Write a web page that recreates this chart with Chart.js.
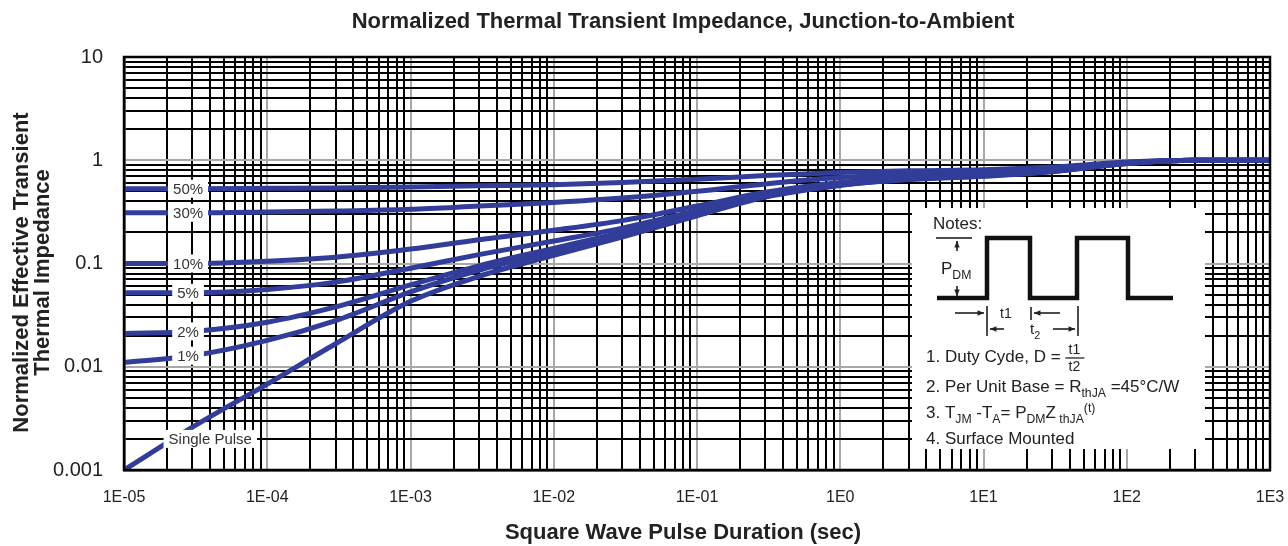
<!DOCTYPE html>
<html>
<head>
<meta charset="utf-8">
<script src="https://cdn.jsdelivr.net/npm/chart.js@4.4.0/dist/chart.umd.min.js"></script>
<style>
  html, body { margin: 0; padding: 0; background: #fff; }
</style>
</head>
<body>
<canvas id="zth" width="1288" height="546"></canvas>
<script>
// pulse duration (s) and normalized Zth per duty cycle
const pulseWidths = [1e-5, 3e-5, 1e-4, 3e-4, 1e-3, 3e-3, 1e-2, 3e-2, 1e-1, 3e-1, 1, 3, 10, 30, 100, 300, 1000];
const duty50 = [0.53, 0.53, 0.535, 0.54, 0.55, 0.565, 0.58, 0.61, 0.655, 0.71, 0.76, 0.79, 0.81, 0.86, 0.96, 1.0, 1.0];
const duty30 = [0.31, 0.31, 0.315, 0.322, 0.335, 0.36, 0.39, 0.43, 0.5, 0.59, 0.68, 0.73, 0.77, 0.83, 0.95, 1.0, 1.0];
const duty10 = [0.1, 0.1, 0.105, 0.115, 0.138, 0.17, 0.21, 0.26, 0.36, 0.49, 0.61, 0.68, 0.73, 0.8, 0.94, 1.0, 1.0];
const duty5 = [0.052, 0.052, 0.056, 0.066, 0.09, 0.122, 0.165, 0.22, 0.325, 0.46, 0.59, 0.67, 0.72, 0.79, 0.935, 1.0, 1.0];
const duty2 = [0.021, 0.022, 0.027, 0.038, 0.062, 0.095, 0.14, 0.2, 0.3, 0.45, 0.58, 0.66, 0.71, 0.785, 0.93, 1.0, 1.0];
const duty1 = [0.011, 0.0128, 0.018, 0.028, 0.053, 0.086, 0.13, 0.19, 0.295, 0.445, 0.575, 0.655, 0.705, 0.78, 0.93, 1.0, 1.0];
const singlePulse = [0.001, 0.0026, 0.0068, 0.0167, 0.043, 0.075, 0.12, 0.18, 0.29, 0.44, 0.57, 0.65, 0.7, 0.775, 0.93, 1.0, 1.0];

const curveNames = ['50%', '30%', '10%', '5%', '2%', '1%', 'Single Pulse'];
const curveValues = [duty50, duty30, duty10, duty5, duty2, duty1, singlePulse];

const xDecades = [1e-5, 1e-4, 1e-3, 1e-2, 1e-1, 1, 10, 100, 1000];
const xTickLabels = ['1E-05', '1E-04', '1E-03', '1E-02', '1E-01', '1E0', '1E1', '1E2', '1E3'];
const yDecades = [0.001, 0.01, 0.1, 1, 10];
const yTickLabels = ['0.001', '0.01', '0.1', '1', '10'];

const FONT = '"Liberation Sans", Arial, sans-serif';
const LINE_BLUE = '#313d99';

// 1..9 x 10^n for every decade, so every minor grid line gets drawn
function logTicks(decades) {
  const out = [];
  for (let i = 0; i < decades.length - 1; i++) {
    for (let m = 1; m < 10; m++) out.push({ value: m * decades[i] });
  }
  out.push({ value: decades[decades.length - 1] });
  return out;
}

function isDecade(v) {
  const l = Math.log10(v);
  return Math.abs(l - Math.round(l)) < 1e-9;
}

function decadeLabel(v, decades, labels) {
  const i = decades.findIndex(d => Math.abs(Math.log10(d) - Math.log10(v)) < 1e-9);
  return i >= 0 ? labels[i] : '';
}

const gridColor = ctx => (ctx.tick && isDecade(ctx.tick.value)) ? '#a8a8a8' : '#000';

function arrow(ctx, x1, y1, x2, y2) {
  const ang = Math.atan2(y2 - y1, x2 - x1);
  ctx.beginPath();
  ctx.moveTo(x1, y1);
  ctx.lineTo(x2, y2);
  ctx.stroke();
  ctx.beginPath();
  ctx.moveTo(x2, y2);
  ctx.lineTo(x2 - 7 * Math.cos(ang - 0.4), y2 - 7 * Math.sin(ang - 0.4));
  ctx.lineTo(x2 - 7 * Math.cos(ang + 0.4), y2 - 7 * Math.sin(ang + 0.4));
  ctx.closePath();
  ctx.fill();
}

// text with sub/superscript pieces, left aligned on a baseline
function richText(ctx, x, y, parts, size) {
  ctx.textAlign = 'left';
  ctx.textBaseline = 'alphabetic';
  for (const p of parts) {
    const fs = (p.sub || p.sup) ? size * 0.72 : size;
    ctx.font = fs + 'px ' + FONT;
    const dy = p.sub ? size * 0.3 : (p.sup ? -size * 0.35 : 0);
    ctx.fillText(p.t, x, y + dy);
    x += ctx.measureText(p.t).width;
  }
  return x;
}

const annotations = {
  id: 'annotations',
  afterDatasetsDraw(chart) {
    const { ctx, chartArea: a, scales } = chart;
    const xs = scales.x, ys = scales.y;
    ctx.save();

    // plot frame
    ctx.strokeStyle = '#000';
    ctx.lineWidth = 2.5;
    ctx.strokeRect(a.left, a.top, a.right - a.left, a.bottom - a.top);

    // curve tags on white boxes
    ctx.font = '15px ' + FONT;
    ctx.textAlign = 'center';
    ctx.textBaseline = 'middle';
    curveNames.forEach((name, i) => {
      let cx, cy;
      if (name === 'Single Pulse') {
        cx = xs.getPixelForValue(4e-5);
        cy = ys.getPixelForValue(0.002);
      } else {
        cx = xs.getPixelForValue(2.8e-5);
        cy = ys.getPixelForValue(curveValues[i][1]);
      }
      const w = ctx.measureText(name).width + 10;
      ctx.fillStyle = '#fff';
      ctx.fillRect(cx - w / 2, cy - 9, w, 18);
      ctx.fillStyle = '#333';
      ctx.fillText(name, cx, cy + 1);
    });

    // notes panel
    const bx = a.right - 358, by = a.top + 151;
    const bw = 293, bh = a.bottom - 21 - by;
    ctx.fillStyle = '#fff';
    ctx.fillRect(bx, by, bw, bh);

    ctx.fillStyle = '#222';
    ctx.strokeStyle = '#111';
    ctx.font = '17px ' + FONT;
    ctx.textAlign = 'left';
    ctx.textBaseline = 'alphabetic';
    ctx.fillText('Notes:', bx + 21, by + 21);

    // pulse train
    ctx.lineWidth = 4.5;
    ctx.lineJoin = 'miter';
    ctx.beginPath();
    const wave = [[25, 90], [75, 90], [75, 30], [118, 30], [118, 90], [165, 90], [165, 30], [216, 30], [216, 90], [261, 90]];
    wave.forEach(([px, py], k) => k ? ctx.lineTo(bx + px, by + py) : ctx.moveTo(bx + px, by + py));
    ctx.stroke();

    // P_DM marker
    ctx.lineWidth = 1.5;
    ctx.beginPath();
    ctx.moveTo(bx + 24, by + 30);
    ctx.lineTo(bx + 60, by + 30);
    ctx.stroke();
    arrow(ctx, bx + 45, by + 43, bx + 45, by + 33);
    arrow(ctx, bx + 45, by + 78, bx + 45, by + 88);
    richText(ctx, bx + 29, by + 66, [{ t: 'P' }, { t: 'DM', sub: true }], 17);

    // t1 / t2 dimension marks
    ctx.lineWidth = 1.5;
    ctx.beginPath();
    ctx.moveTo(bx + 75, by + 98); ctx.lineTo(bx + 75, by + 128);
    ctx.moveTo(bx + 119, by + 99); ctx.lineTo(bx + 119, by + 112);
    ctx.moveTo(bx + 166, by + 98); ctx.lineTo(bx + 166, by + 128);
    ctx.stroke();
    arrow(ctx, bx + 43, by + 105, bx + 72, by + 105);
    arrow(ctx, bx + 148, by + 105, bx + 122, by + 105);
    arrow(ctx, bx + 92, by + 121, bx + 78, by + 121);
    arrow(ctx, bx + 141, by + 121, bx + 163, by + 121);
    richText(ctx, bx + 88, by + 110, [{ t: 't1' }], 14);
    richText(ctx, bx + 118, by + 126, [{ t: 't' }, { t: '2', sub: true }], 15);

    // numbered notes
    ctx.fillStyle = '#222';
    const endX = richText(ctx, bx + 14, by + 154, [{ t: '1. Duty Cyde, D = ' }], 17);
    ctx.font = '14px ' + FONT;
    ctx.textAlign = 'center';
    ctx.fillText('t1', endX + 9, by + 146);
    ctx.fillText('t2', endX + 9, by + 163);
    ctx.lineWidth = 1.2;
    ctx.beginPath();
    ctx.moveTo(endX, by + 150); ctx.lineTo(endX + 19, by + 150);
    ctx.stroke();

    richText(ctx, bx + 14, by + 184, [{ t: '2. Per Unit Base = R' }, { t: 'thJA', sub: true }, { t: ' =45°C/W' }], 17);
    richText(ctx, bx + 14, by + 210, [{ t: '3. T' }, { t: 'JM', sub: true }, { t: ' -T' }, { t: 'A', sub: true },
      { t: '= P' }, { t: 'DM' , sub: true }, { t: 'Z' }, { t: ' thJA', sub: true }, { t: '(t)', sup: true }], 17);
    richText(ctx, bx + 14, by + 236, [{ t: '4. Surface Mounted' }], 17);

    ctx.restore();
  },
  afterDraw(chart) {
    const { ctx, chartArea: a } = chart;
    const mid = (a.left + a.right) / 2 - 14;
    ctx.save();
    ctx.fillStyle = '#222';
    ctx.font = 'bold 22px ' + FONT;
    ctx.textAlign = 'center';
    ctx.textBaseline = 'middle';
    ctx.fillText('Normalized Thermal Transient Impedance, Junction-to-Ambient', mid, 22);
    ctx.fillText('Square Wave Pulse Duration (sec)', mid, 533);
    ctx.translate(22, (a.top + a.bottom) / 2 + 9);
    ctx.rotate(-Math.PI / 2);
    ctx.fillText('Normalized Effective Transient', 0, 0);
    ctx.fillText('Thermal Impedance', 0, 21);
    ctx.restore();
  }
};

const datasets = curveNames.map((name, i) => ({
  label: name,
  data: pulseWidths.map((t, k) => ({ x: t, y: curveValues[i][k] })),
  borderColor: LINE_BLUE,
  borderWidth: 5,
  pointRadius: 0,
  fill: false,
  cubicInterpolationMode: 'monotone'
}));

new Chart(document.getElementById('zth').getContext('2d'), {
  type: 'line',
  data: { datasets },
  options: {
    responsive: false,
    animation: false,
    devicePixelRatio: 1,
    layout: { padding: { top: 57, right: 18, left: 0, bottom: 0 } },
    plugins: {
      legend: { display: false },
      tooltip: { enabled: false },
      title: { display: false }
    },
    scales: {
      x: {
        type: 'logarithmic',
        min: 1e-5,
        max: 1e3,
        afterBuildTicks: s => { s.ticks = logTicks(xDecades); },
        afterFit: s => { s.height = 76; s.paddingLeft = 0; s.paddingRight = 0; },
        grid: { color: gridColor, lineWidth: 2, drawTicks: false },
        border: { display: true, color: '#000', width: 2.5 },
        ticks: {
          autoSkip: false,
          maxRotation: 0,
          padding: 18,
          color: '#222',
          font: { family: FONT, size: 16 },
          callback: v => decadeLabel(v, xDecades, xTickLabels)
        }
      },
      y: {
        type: 'logarithmic',
        min: 0.001,
        max: 10,
        afterBuildTicks: s => { s.ticks = logTicks(yDecades); },
        afterFit: s => { s.width = 124; s.paddingTop = 0; s.paddingBottom = 0; },
        grid: { color: gridColor, lineWidth: 2, drawTicks: false },
        border: { display: true, color: '#000', width: 2.5 },
        ticks: {
          autoSkip: false,
          padding: 21,
          color: '#222',
          font: { family: FONT, size: 20 },
          callback: v => decadeLabel(v, yDecades, yTickLabels)
        }
      }
    }
  },
  plugins: [annotations]
});
</script>
</body>
</html>
